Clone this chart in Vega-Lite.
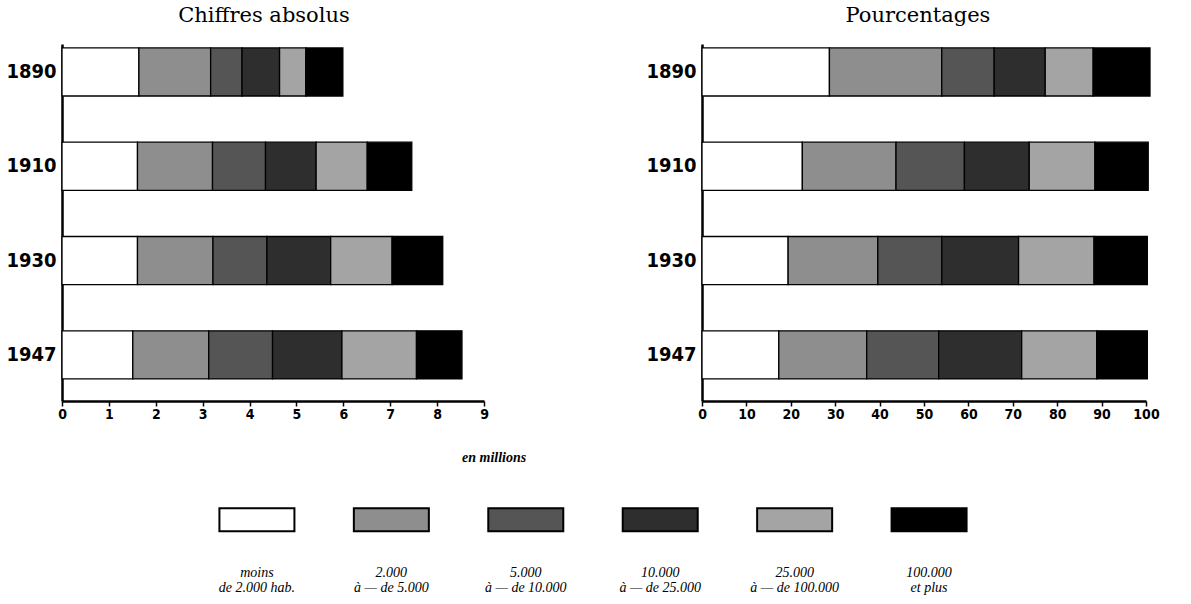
{
  "$schema": "https://vega.github.io/schema/vega-lite/v6.json",
  "padding": {"left": 5, "top": 5, "right": 5, "bottom": 5},
  "background": "white",
  "spacing": 30,
  "datasets": {
    "abs": [
      {"annee": "1890", "rang": 1, "valeur": 1.64},
      {"annee": "1890", "rang": 2, "valeur": 1.53},
      {"annee": "1890", "rang": 3, "valeur": 0.67},
      {"annee": "1890", "rang": 4, "valeur": 0.80},
      {"annee": "1890", "rang": 5, "valeur": 0.56},
      {"annee": "1890", "rang": 6, "valeur": 0.79},
      {"annee": "1910", "rang": 1, "valeur": 1.61},
      {"annee": "1910", "rang": 2, "valeur": 1.60},
      {"annee": "1910", "rang": 3, "valeur": 1.13},
      {"annee": "1910", "rang": 4, "valeur": 1.08},
      {"annee": "1910", "rang": 5, "valeur": 1.09},
      {"annee": "1910", "rang": 6, "valeur": 0.95},
      {"annee": "1930", "rang": 1, "valeur": 1.61},
      {"annee": "1930", "rang": 2, "valeur": 1.61},
      {"annee": "1930", "rang": 3, "valeur": 1.15},
      {"annee": "1930", "rang": 4, "valeur": 1.36},
      {"annee": "1930", "rang": 5, "valeur": 1.31},
      {"annee": "1930", "rang": 6, "valeur": 1.08},
      {"annee": "1947", "rang": 1, "valeur": 1.51},
      {"annee": "1947", "rang": 2, "valeur": 1.62},
      {"annee": "1947", "rang": 3, "valeur": 1.36},
      {"annee": "1947", "rang": 4, "valeur": 1.48},
      {"annee": "1947", "rang": 5, "valeur": 1.59},
      {"annee": "1947", "rang": 6, "valeur": 0.97}
    ],
    "pct": [
      {"annee": "1890", "rang": 1, "valeur": 28.7},
      {"annee": "1890", "rang": 2, "valeur": 25.3},
      {"annee": "1890", "rang": 3, "valeur": 11.8},
      {"annee": "1890", "rang": 4, "valeur": 11.5},
      {"annee": "1890", "rang": 5, "valeur": 10.8},
      {"annee": "1890", "rang": 6, "valeur": 12.8},
      {"annee": "1910", "rang": 1, "valeur": 22.6},
      {"annee": "1910", "rang": 2, "valeur": 21.1},
      {"annee": "1910", "rang": 3, "valeur": 15.4},
      {"annee": "1910", "rang": 4, "valeur": 14.6},
      {"annee": "1910", "rang": 5, "valeur": 14.8},
      {"annee": "1910", "rang": 6, "valeur": 12.0},
      {"annee": "1930", "rang": 1, "valeur": 19.4},
      {"annee": "1930", "rang": 2, "valeur": 20.2},
      {"annee": "1930", "rang": 3, "valeur": 14.4},
      {"annee": "1930", "rang": 4, "valeur": 17.3},
      {"annee": "1930", "rang": 5, "valeur": 17.0},
      {"annee": "1930", "rang": 6, "valeur": 12.0},
      {"annee": "1947", "rang": 1, "valeur": 17.3},
      {"annee": "1947", "rang": 2, "valeur": 19.8},
      {"annee": "1947", "rang": 3, "valeur": 16.2},
      {"annee": "1947", "rang": 4, "valeur": 18.7},
      {"annee": "1947", "rang": 5, "valeur": 16.9},
      {"annee": "1947", "rang": 6, "valeur": 11.4}
    ],
    "legende": [
      {"rang": 1, "libelle": "moins\nde 2.000 hab."},
      {"rang": 2, "libelle": "2.000\nà — de 5.000"},
      {"rang": 3, "libelle": "5.000\nà — de 10.000"},
      {"rang": 4, "libelle": "10.000\nà — de 25.000"},
      {"rang": 5, "libelle": "25.000\nà — de 100.000"},
      {"rang": 6, "libelle": "100.000\net plus"}
    ]
  },
  "vconcat": [
    {
      "spacing": 156,
      "hconcat": [
        {
          "width": 422,
          "height": 357,
          "title": {"text": "Chiffres absolus", "dx": -9},
          "data": {"name": "abs"},
          "mark": {"type": "bar", "stroke": "black", "strokeWidth": 1.3},
          "encoding": {
            "y": {"field": "annee", "type": "ordinal", "title": null,
                  "scale": {"paddingInner": 0.49, "paddingOuter": 0.138, "align": 0.15},
                  "axis": {"ticks": false, "labelPadding": 6, "labelFontSize": 20, "labelAngle": 0}},
            "x": {"field": "valeur", "type": "quantitative", "stack": "zero", "title": null,
                  "scale": {"domain": [0, 9], "nice": false},
                  "axis": {"values": [0, 1, 2, 3, 4, 5, 6, 7, 8, 9], "format": "d"}},
            "color": {"field": "rang", "type": "ordinal", "legend": null,
                      "scale": {"domain": [1, 2, 3, 4, 5, 6], "range": ["#ffffff", "#8e8e8e", "#555555", "#2e2e2e", "#a4a4a4", "#000000"]}},
            "order": {"field": "rang", "type": "quantitative"}
          }
        },
        {
          "width": 444,
          "height": 357,
          "title": {"text": "Pourcentages", "dx": -6},
          "data": {"name": "pct"},
          "mark": {"type": "bar", "stroke": "black", "strokeWidth": 1.3},
          "encoding": {
            "y": {"field": "annee", "type": "ordinal", "title": null,
                  "scale": {"paddingInner": 0.49, "paddingOuter": 0.138, "align": 0.15},
                  "axis": {"ticks": false, "labelPadding": 6, "labelFontSize": 20, "labelAngle": 0}},
            "x": {"field": "valeur", "type": "quantitative", "stack": "zero", "title": null,
                  "scale": {"domain": [0, 100], "nice": false},
                  "axis": {"values": [0, 10, 20, 30, 40, 50, 60, 70, 80, 90, 100], "format": "d"}},
            "color": {"field": "rang", "type": "ordinal", "legend": null,
                      "scale": {"domain": [1, 2, 3, 4, 5, 6], "range": ["#ffffff", "#8e8e8e", "#555555", "#2e2e2e", "#a4a4a4", "#000000"]}},
            "order": {"field": "rang", "type": "quantitative"}
          }
        }
      ]
    },
    {
      "width": 1062,
      "height": 107,
      "title": {"text": "en millions", "anchor": "start", "dx": 400, "font": "Liberation Serif", "fontStyle": "italic", "fontWeight": "bold", "fontSize": 14, "offset": 28},
      "data": {"name": "legende"},
      "encoding": {
        "x": {"field": "rang", "type": "ordinal", "scale": {"type": "band", "paddingInner": 0, "paddingOuter": 0.95}, "axis": null}
      },
      "layer": [
        {
          "mark": {"type": "bar", "width": 75, "height": 23, "stroke": "black", "strokeWidth": 2},
          "encoding": {
            "y": {"datum": "s", "type": "ordinal", "scale": {"type": "point", "domain": ["s", "l"], "padding": 0.5}, "axis": null},
            "color": {"field": "rang", "type": "ordinal", "legend": null,
                      "scale": {"domain": [1, 2, 3, 4, 5, 6], "range": ["#ffffff", "#8e8e8e", "#555555", "#2e2e2e", "#a4a4a4", "#000000"]}}
          }
        },
        {
          "mark": {"type": "text", "lineBreak": "\n", "lineHeight": 15, "font": "Liberation Serif", "fontStyle": "italic", "fontSize": 14, "baseline": "middle", "align": "center", "color": "black"},
          "encoding": {
            "y": {"datum": "l", "type": "ordinal", "scale": {"type": "point", "domain": ["s", "l"], "padding": 0.5}, "axis": null},
            "text": {"field": "libelle"}
          }
        }
      ]
    }
  ],
  "config": {
    "view": {"stroke": null},
    "title": {"font": "DejaVu Serif", "fontSize": 21, "fontWeight": "normal", "color": "black", "offset": 18},
    "axis": {
      "domainColor": "black", "domainWidth": 2.5, "tickColor": "black", "tickWidth": 1.5, "tickSize": 5,
      "labelFont": "Liberation Sans Narrow, DejaVu Sans Condensed", "labelFontWeight": "bold", "labelColor": "black",
      "labelFontSize": 14, "labelPadding": 1, "grid": false, "labelFlush": false
    }
  }
}
